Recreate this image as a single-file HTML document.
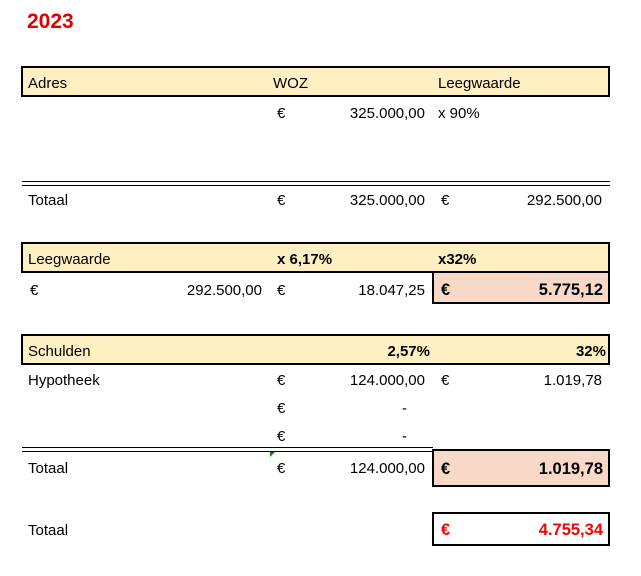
<!DOCTYPE html>
<html><head><meta charset="utf-8"><style>
body{margin:0;width:641px;height:576px;background:#fff;position:relative;overflow:hidden;font-family:"Liberation Sans",sans-serif;font-size:15px;color:#000}
.a{position:absolute;white-space:nowrap;line-height:18px;margin-top:1px}
.r{text-align:right}
.b{font-weight:bold}
.box{position:absolute;box-sizing:border-box;border:2.5px solid #000}
.hdr{background:#fff0c4}
.pink{background:#f8d9c8}
.dbl{position:absolute;height:2.5px;border-top:1.5px solid #000;border-bottom:1.5px solid #000;background:#fff}
</style></head><body>
<div class="a b" style="left:27px;top:9px;font-size:21px;line-height:24px;color:#e00000">2023</div>

<div class="box hdr" style="left:21px;top:66px;width:589px;height:31px"></div>
<div class="a" style="left:28px;top:74px">Adres</div>
<div class="a" style="left:273px;top:74px">WOZ</div>
<div class="a" style="left:438px;top:74px">Leegwaarde</div>

<div class="a" style="left:277px;top:104px">€</div>
<div class="a r" style="right:216px;top:104px">325.000,00</div>
<div class="a" style="left:438px;top:104px">x 90%</div>

<div class="dbl" style="left:22px;top:181px;width:588px"></div>
<div class="a" style="left:28px;top:191px">Totaal</div>
<div class="a" style="left:277px;top:191px">€</div>
<div class="a r" style="right:216px;top:191px">325.000,00</div>
<div class="a" style="left:441px;top:191px">€</div>
<div class="a r" style="right:39px;top:191px">292.500,00</div>

<div class="box hdr" style="left:21px;top:242px;width:589px;height:31px"></div>
<div class="a" style="left:28px;top:250px">Leegwaarde</div>
<div class="a b" style="left:277px;top:250px">x 6,17%</div>
<div class="a b" style="left:438px;top:250px">x32%</div>
<div class="a" style="left:30px;top:281px">€</div>
<div class="a r" style="right:379px;top:281px">292.500,00</div>
<div class="a" style="left:277px;top:281px">€</div>
<div class="a r" style="right:216px;top:281px">18.047,25</div>
<div class="box pink" style="left:432px;top:271px;width:178px;height:33px"></div>
<div class="a b" style="left:441px;top:280px;font-size:16.5px">€</div>
<div class="a r b" style="right:38px;top:280px;font-size:16.5px">5.775,12</div>

<div class="box hdr" style="left:21px;top:334px;width:589px;height:31px"></div>
<div class="a" style="left:28px;top:342px">Schulden</div>
<div class="a r b" style="right:211px;top:342px">2,57%</div>
<div class="a r b" style="right:35px;top:342px">32%</div>

<div class="a" style="left:28px;top:371px">Hypotheek</div>
<div class="a" style="left:277px;top:371px">€</div>
<div class="a r" style="right:216px;top:371px">124.000,00</div>
<div class="a" style="left:441px;top:371px">€</div>
<div class="a r" style="right:39px;top:371px">1.019,78</div>
<div class="a" style="left:277px;top:399px">€</div>
<div class="a" style="left:402px;top:399px">-</div>
<div class="a" style="left:277px;top:427px">€</div>
<div class="a" style="left:402px;top:427px">-</div>

<div class="dbl" style="left:22px;top:447px;width:411px"></div>
<div style="position:absolute;left:270px;top:452px;width:0;height:0;border-top:5px solid #1a7a1a;border-right:5px solid transparent"></div>
<div class="a" style="left:28px;top:459px">Totaal</div>
<div class="a" style="left:277px;top:459px">€</div>
<div class="a r" style="right:216px;top:459px">124.000,00</div>
<div class="box pink" style="left:432px;top:449px;width:178px;height:38px"></div>
<div class="a b" style="left:441px;top:459px;font-size:16.5px">€</div>
<div class="a r b" style="right:38px;top:459px;font-size:16.5px">1.019,78</div>

<div class="a" style="left:28px;top:521px">Totaal</div>
<div class="box" style="left:432px;top:512px;width:178px;height:34px"></div>
<div class="a b" style="left:441px;top:520px;font-size:16.5px;color:#f00">€</div>
<div class="a r b" style="right:38px;top:520px;font-size:16.5px;color:#f00">4.755,34</div>
</body></html>
